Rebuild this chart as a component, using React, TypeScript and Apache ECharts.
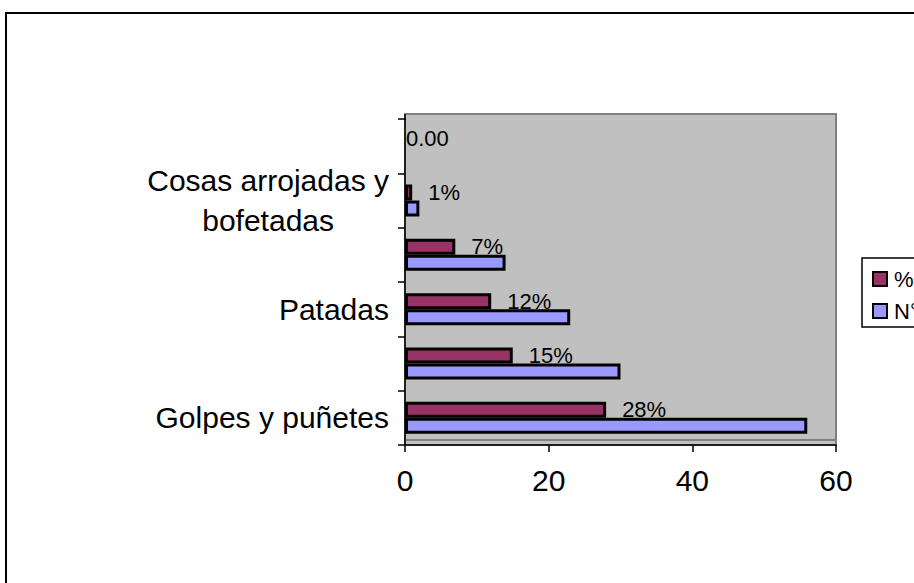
import React, { useEffect, useRef } from "react";
import * as echarts from "echarts";

const categories = ["Golpes y puñetes", " ", "Patadas", "  ", "Cosas arrojadas y bofetadas", "   "];
const seriesNames = ["%", "N°"];
const pctValues = [28, 15, 12, 7, 1, 0];
const pctLabels = ["28%", "15%", "12%", "7%", "1%", "0.00"];
const countValues = [56, 30, 23, 14, 2, 0];
const xMin = 0;
const xMax = 60;
const xStep = 20;

const FONT = '"Liberation Sans", Arial, sans-serif';

function wrapLabel(v: string): string {
  if (v.length <= 18) return v;
  const words = v.split(" ");
  const lines: string[] = [];
  let cur = "";
  for (const w of words) {
    const next = cur ? cur + " " + w : w;
    if (next.length > 17 && cur) {
      lines.push(cur);
      cur = w;
    } else cur = next;
  }
  if (cur) lines.push(cur);
  return lines.map((l) => "{c|" + l + "}").join("\n");
}

function toItems(values: number[], withLabelTweak: boolean) {
  return values.map((v) =>
    v === 0
      ? { value: v, itemStyle: { borderWidth: 0 }, ...(withLabelTweak ? { label: { distance: 1 } } : {}) }
      : v
  );
}

export default function App() {
  const ref = useRef<HTMLDivElement>(null);
  useEffect(() => {
    if (!ref.current) return;
    const chart = echarts.init(ref.current, undefined, { renderer: "svg" });
    const option: any = {
      animation: false,
      backgroundColor: "#ffffff",
      textStyle: { fontFamily: FONT },
      graphic: [
        {
          type: "rect",
          z: -30,
          silent: true,
          shape: { x: 6, y: 13, width: 1000, height: 700 },
          style: { fill: "none", stroke: "#000", lineWidth: 2 },
        },
        {
          type: "rect",
          z: -20,
          silent: true,
          shape: { x: 405, y: 114, width: 431, height: 331 },
          style: { fill: "#C0C0C0", stroke: "#808080", lineWidth: 2 },
        },
        {
          type: "line",
          z: -10,
          silent: true,
          shape: { x1: 405, y1: 440, x2: 836, y2: 440 },
          style: { stroke: "#808080", lineWidth: 2 },
        },
        {
          type: "line",
          z: -5,
          silent: true,
          shape: { x1: 405, y1: 114, x2: 405, y2: 120 },
          style: { stroke: "#000", lineWidth: 1.5 },
        },
      ],
      legend: {
        orient: "vertical",
        left: 862,
        top: 258,
        data: seriesNames,
        icon: "rect",
        itemWidth: 14,
        itemHeight: 14,
        itemGap: 10,
        padding: [10, 30, 5, 10],
        borderColor: "#000",
        borderWidth: 1.5,
        textStyle: { fontSize: 22, color: "#000", fontFamily: FONT, padding: [0, 0, 0, 2] },
      },
      grid: { left: 405, top: 119, width: 431, height: 326, containLabel: false },
      xAxis: {
        type: "value",
        min: xMin,
        max: xMax,
        interval: xStep,
        splitLine: { show: false },
        axisLine: { show: true, lineStyle: { color: "#000", width: 1.5 } },
        axisTick: { show: true, length: 7, lineStyle: { color: "#000", width: 1.5 } },
        axisLabel: { fontSize: 30, color: "#000", margin: 20, fontFamily: FONT },
      },
      yAxis: {
        type: "category",
        data: categories,
        axisLine: { show: true, lineStyle: { color: "#000", width: 1.5 } },
        axisTick: { show: true, interval: 0, length: 7, lineStyle: { color: "#000", width: 1.5 } },
        axisLabel: {
          interval: 1,
          fontSize: 30,
          color: "#000",
          margin: 16,
          fontFamily: FONT,
          formatter: (v: string) => wrapLabel(v),
          rich: { c: { fontSize: 30, align: "center", lineHeight: 40, color: "#000", fontFamily: FONT } },
        },
      },
      series: [
        {
          name: seriesNames[0],
          type: "bar",
          barWidth: 16,
          barGap: "0%",
          data: toItems(pctValues, true),
          itemStyle: { color: "#993366", borderColor: "#000", borderWidth: 3 },
          label: {
            show: true,
            position: "right",
            distance: 16,
            fontSize: 22,
            color: "#000",
            fontFamily: FONT,
            formatter: (p: any) => pctLabels[p.dataIndex],
          },
        },
        {
          name: seriesNames[1],
          type: "bar",
          barWidth: 16,
          barGap: "0%",
          data: toItems(countValues, false),
          itemStyle: { color: "#9999FF", borderColor: "#000", borderWidth: 3 },
        },
      ],
    };
    chart.setOption(option);
    return () => chart.dispose();
  }, []);
  return <div ref={ref} style={{ position: "fixed", left: 0, top: 0, width: 914, height: 583 }} />;
}
